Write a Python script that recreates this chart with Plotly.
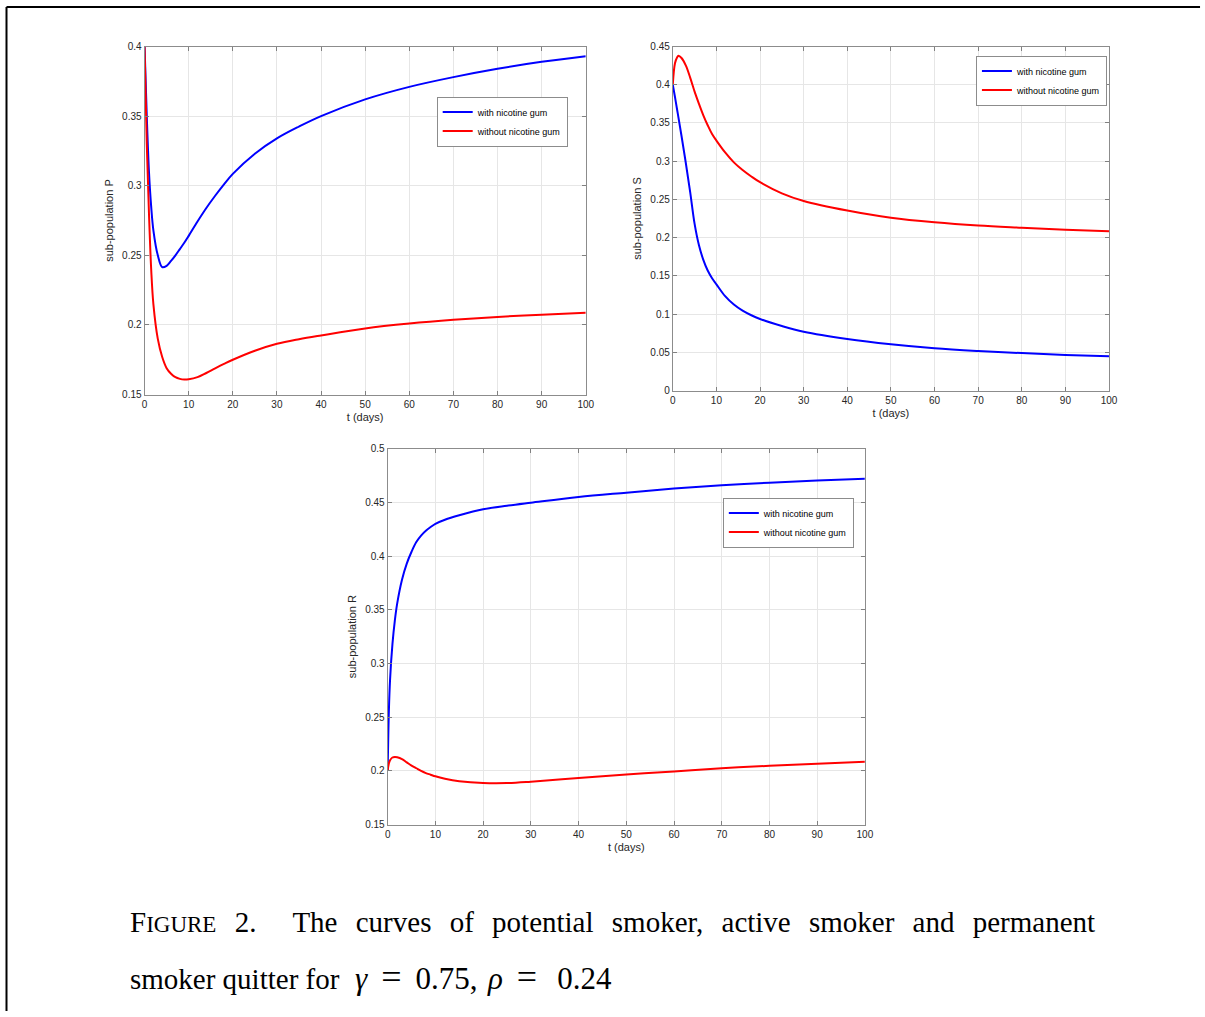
import plotly.graph_objects as go

W, H = 1205, 1017

# ---- data ----
t_P = [0, 0.5, 1, 1.5, 2, 3, 4, 5, 6, 7, 8, 9, 10, 12, 14, 16, 18, 20, 25, 30, 35, 40, 50, 60, 70, 80, 90, 100]
P_with = [0.400, 0.350, 0.310, 0.285, 0.268, 0.250, 0.2415, 0.2425, 0.246, 0.250, 0.2545, 0.259, 0.264, 0.2743,
          0.2840, 0.2928, 0.3010, 0.3085, 0.3230, 0.3340, 0.3425, 0.350, 0.362, 0.371, 0.378, 0.384, 0.389, 0.393]
P_without = [0.400, 0.330, 0.280, 0.240, 0.215, 0.190, 0.177, 0.169, 0.165, 0.1625, 0.1613, 0.1608, 0.161, 0.1625,
             0.1655, 0.1688, 0.172, 0.175, 0.1815, 0.1865, 0.1898, 0.1925, 0.1975, 0.201, 0.2037, 0.2058, 0.2074, 0.2087]

t_S = [0, 0.5, 1, 1.3, 2, 3, 4, 5, 6, 7, 8, 9, 10, 12, 14, 16, 18, 20, 25, 30, 40, 50, 60, 70, 80, 90, 100]
S_with = [0.400, 0.384, 0.367, 0.357, 0.333, 0.297, 0.259, 0.218, 0.190, 0.171, 0.157, 0.147, 0.139, 0.1235,
          0.1125, 0.1045, 0.0985, 0.0937, 0.0845, 0.077, 0.0675, 0.0606, 0.0554, 0.0518, 0.049, 0.0466, 0.0449]
S_without = [0.400, 0.428, 0.436, 0.438, 0.435, 0.425, 0.409, 0.391, 0.375, 0.360, 0.347, 0.3355, 0.327, 0.3115,
             0.2985, 0.2885, 0.280, 0.2725, 0.258, 0.248, 0.2355, 0.226, 0.220, 0.2158, 0.213, 0.2105, 0.2084]

t_R = [0, 0.25, 0.5, 1, 1.5, 2, 3, 4, 5, 6, 7, 8, 9, 10, 12, 15, 20, 25, 30, 40, 50, 60, 70, 80, 90, 100]
R_with = [0.200, 0.255, 0.285, 0.318, 0.340, 0.356, 0.378, 0.393, 0.404, 0.413, 0.419, 0.4235, 0.427, 0.430,
          0.4338, 0.4379, 0.4435, 0.4468, 0.4496, 0.455, 0.459, 0.4628, 0.4658, 0.4683, 0.4702, 0.472]
R_without = [0.200, 0.207, 0.210, 0.2125, 0.213, 0.2127, 0.211, 0.208, 0.205, 0.2025, 0.200, 0.198, 0.1965, 0.195,
             0.1928, 0.1905, 0.1888, 0.1887, 0.190, 0.1935, 0.1968, 0.1995, 0.2025, 0.2048, 0.2068, 0.2085]

series_names = ["with nicotine gum", "without nicotine gum"]
colors = ["#0000ff", "#ff0000"]
x_ticks = list(range(0, 101, 10))

# map reference pixel positions to paper fractions (compensates the capture scaling)
SX, OX, SY, OY = 0.9896, 3.5, 0.988, 5.5

def px_x(p):
    return ((p - OX) / SX) / W

def px_y(p):
    return 1 - ((p - OY) / SY) / H

fig = go.Figure()

panels = [
    (t_P, P_with, P_without, "x", "y", "legend", "sub-population P", [0.15, 0.4], (145, 586, 46, 394), (437, 96)),
    (t_S, S_with, S_without, "x2", "y2", "legend2", "sub-population S", [0, 0.45], (673, 1109, 46, 390), (976, 55)),
    (t_R, R_with, R_without, "x3", "y3", "legend3", "sub-population R", [0.15, 0.5], (388, 865, 448, 824), (723, 497)),
]

sans = "Liberation Sans, Arial, sans-serif"
axis_font = dict(family=sans, size=10, color="#262626")
layout_upd = {}
for i, (t, yw, yo, xa, ya, lg, ylab, yr, box, lpos) in enumerate(panels):
    for name, vals, col in zip(series_names, [yw, yo], colors):
        fig.add_trace(go.Scatter(x=t, y=vals, mode="lines", name=name,
                                 line=dict(color=col, width=2, shape="spline", smoothing=1.0),
                                 xaxis=xa, yaxis=ya, legend=lg, showlegend=True))
    x0, x1, yt, yb = box
    xkey = "xaxis" if i == 0 else f"xaxis{i+1}"
    ykey = "yaxis" if i == 0 else f"yaxis{i+1}"
    common = dict(ticks="inside", ticklen=4, tickcolor="#808080",
                  showline=True, linecolor="#8c8c8c", linewidth=1, mirror="ticks",
                  showgrid=True, gridcolor="#e6e6e6", gridwidth=1, zeroline=False,
                  tickfont=axis_font)
    layout_upd[xkey] = dict(domain=[px_x(x0), px_x(x1)], range=[0, 100], anchor=ya, tickvals=x_ticks,
                            title=dict(text="t (days)", font=dict(family=sans, size=11, color="#262626"), standoff=4),
                            **common)
    layout_upd[ykey] = dict(domain=[px_y(yb), px_y(yt)], range=yr, anchor=xa, dtick=0.05,
                            title=dict(text=ylab, font=dict(family=sans, size=11, color="#262626"), standoff=6),
                            **common)
    layout_upd[lg] = dict(x=px_x(lpos[0]), y=px_y(lpos[1]), xanchor="left", yanchor="top",
                          bgcolor="white", bordercolor="#8c8c8c", borderwidth=1,
                          font=dict(family=sans, size=9, color="#000000"),
                          itemwidth=30, tracegroupgap=0)

fig.update_layout(**layout_upd)

NB = "\u00a0"
TH = "\u2009"
serif = "Liberation Serif, Times New Roman, serif"
cap_font = dict(family=serif, size=29, color="#000000")
math_font = dict(family=serif, size=31, color="#000000")
EQ = "<span style='font-size:36px'>=</span>"
fig.add_annotation(xref="paper", yref="paper", x=px_x(128), y=px_y(921), xanchor="left", yanchor="middle",
                   showarrow=False, font=cap_font,
                   text="<span style='word-spacing:11px'>F<span style='font-size:23px'>IGURE</span> 2.  The curves of potential smoker, active smoker and permanent</span>")
fig.add_annotation(xref="paper", yref="paper", x=px_x(128), y=px_y(978), xanchor="left", yanchor="middle",
                   showarrow=False, font=cap_font, text="smoker quitter for")
fig.add_annotation(xref="paper", yref="paper", x=px_x(353), y=px_y(976), xanchor="left", yanchor="middle",
                   showarrow=False, font=math_font, text=f"<i>γ</i>{NB}{TH}{EQ}{NB}{TH}0.75,")
fig.add_annotation(xref="paper", yref="paper", x=px_x(485), y=px_y(976), xanchor="left", yanchor="middle",
                   showarrow=False, font=math_font, text=f"<i>ρ</i>{NB}{TH}{EQ}{NB}{TH}{TH}0.24")

# page frame
fig.add_shape(type="line", xref="paper", yref="paper", x0=px_x(7), x1=px_x(1200), y0=1 - 1 / H, y1=1 - 1 / H,
              line=dict(color="black", width=2))
fig.add_shape(type="line", xref="paper", yref="paper", x0=px_x(7), x1=px_x(7), y0=1 - 1 / H, y1=0,
              line=dict(color="black", width=2))

fig.update_layout(width=W, height=H, margin=dict(l=0, r=0, t=0, b=0),
                  paper_bgcolor="white", plot_bgcolor="white")

fig.write_html("out.html", config={"displayModeBar": False},
               post_script="document.documentElement.style.margin='0';document.body.style.margin='0';"
                           "document.body.style.overflow='hidden';")
